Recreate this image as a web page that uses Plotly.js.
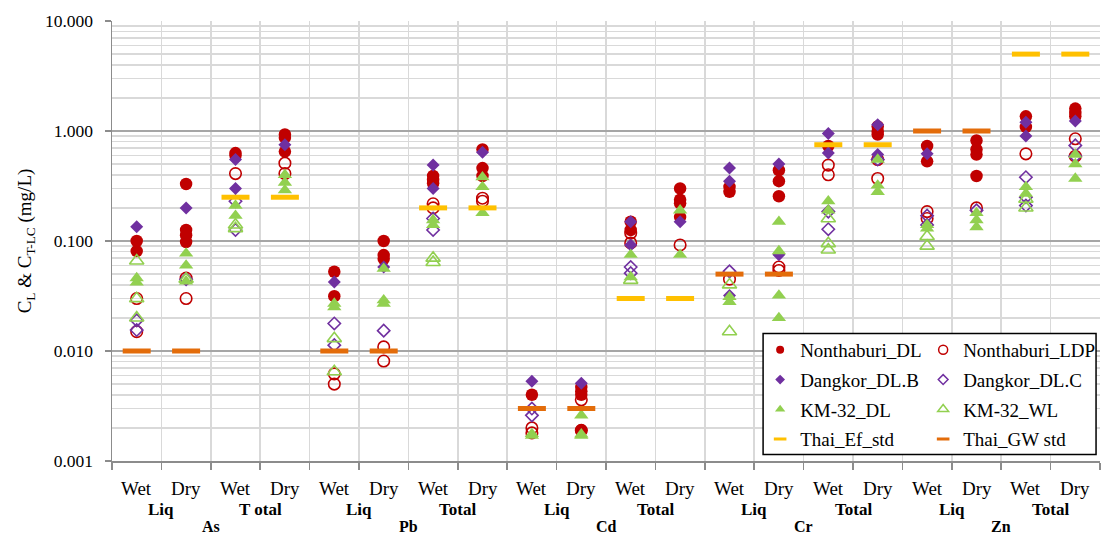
<!DOCTYPE html>
<html>
<head>
<meta charset="utf-8">
<script src="https://cdn.plot.ly/plotly-3.0.1.min.js"></script>
<style>html,body{margin:0;padding:0;background:#fff;}#chart{width:1104px;height:537px;}</style>
</head>
<body>
<div id="chart"></div>
<script>
// ---- category labels ----
const seasonLabels = ["Wet","Dry","Wet","Dry","Wet","Dry","Wet","Dry","Wet","Dry","Wet","Dry","Wet","Dry","Wet","Dry","Wet","Dry","Wet","Dry"];
const phaseLabels = ["Liq","T otal","Liq","Total","Liq","Total","Liq","Total","Liq","Total"];
const metalLabels = ["As","Pb","Cd","Cr","Zn"];
const yTickVals = [0.001, 0.01, 0.1, 1, 10];
const yTickText = ["0.001","0.010","0.100","1.000","10.000"];

// ---- series values (one list of samples per category, 20 categories) ----
const nonthaburiDL = [[0.10,0.081],[0.33,0.126,0.113,0.098],[0.63,0.60],[0.93,0.87,0.65],[0.0525,0.0315],
  [0.10,0.0745,0.069],[0.39,0.36,0.335],[0.68,0.46,0.39],[0.0040],[0.0047,0.0043,0.0040,0.0019],
  [0.15,0.126],[0.30,0.237,0.22,0.165],[0.31,0.28],[0.44,0.35,0.255],[0.73],
  [1.10,0.99,0.93],[0.73,0.53],[0.82,0.68,0.61,0.39],[1.36,1.09],[1.60,1.46,1.36]];
const nonthaburiLDP = [[0.030,0.015],[0.046,0.030],[0.41],[0.51,0.41],[0.0062,0.0050],
  [0.0109,0.0081],[0.218,0.20],[0.245,0.23],[0.0020,0.0018],[0.0036,0.0019],
  [0.118,0.096],[0.092],[0.045],[0.058,0.054],[0.49,0.40],
  [0.55,0.37],[0.185,0.16],[0.20],[0.62],[0.85,0.59]];
const dangkorB = [[0.135],[0.20],[0.55,0.30],[0.75],[0.0425],
  [0.058],[0.49,0.30],[0.64],[0.0053],[0.0051],
  [0.15,0.092],[0.15],[0.46,0.35,0.032],[0.50,0.075],[0.95,0.63],
  [1.14,0.61],[0.62],[],[1.20,0.90],[1.23]];
const dangkorC = [[0.019,0.0155],[0.045],[0.23,0.126],[],[0.0178,0.0113],
  [0.0153],[0.16,0.126],[],[0.0030,0.0026],[],
  [0.058,0.051],[],[0.053],[],[0.185,0.128],
  [0.55],[0.17,0.14],[0.19],[0.38,0.25,0.21],[0.74,0.59]];
const km32DL = [[0.046,0.042],[0.077,0.060,0.043],[0.21,0.17],[0.40,0.34,0.29],[0.027,0.025],
  [0.056,0.029,0.027],[0.155,0.14],[0.38,0.31,0.18],[0.00176,0.0017],[0.0026,0.00175,0.0017],
  [0.075,0.047],[0.19,0.075],[0.031,0.028],[0.15,0.081,0.032,0.020],[0.23,0.19],
  [0.55,0.32,0.28],[0.14,0.13],[0.18,0.155,0.134],[0.31,0.27],[0.61,0.50,0.37]];
const km32WL = [[0.066,0.030,0.020],[0.045],[0.14,0.13],[],[0.013,0.0065],
  [],[0.070,0.064],[],[],[],
  [0.044],[],[0.040,0.015],[],[0.16,0.095,0.083],
  [],[0.11,0.09],[],[0.24,0.20],[]];
const thaiEfStd = [null,null,0.25,0.25,null,null,0.2,0.2,null,null,0.03,0.03,null,null,0.75,0.75,null,null,5.0,5.0];
const thaiGWStd = [0.01,0.01,null,null,0.01,0.01,null,null,0.003,0.003,null,null,0.05,0.05,null,null,1.0,1.0,null,null];

// ---- build traces ----
function flatten(groups){
  const x=[], y=[];
  groups.forEach((g,i)=>{ g.forEach(v=>{ x.push(i); y.push(v); }); });
  return {x,y};
}
function single(arr){
  const x=[], y=[];
  arr.forEach((v,i)=>{ if(v!==null){ x.push(i); y.push(v);} });
  return {x,y};
}
const RED='#C00000', PURPLE='#7030A0', GREEN='#92D050', YELLOW='#FFC000', ORANGE='#E36C0A';
const series = [
  {name:'Nonthaburi_DL', d:flatten(nonthaburiDL), m:{symbol:'circle',color:RED,size:12.5}, lm:{symbol:'circle',color:RED,size:8}, lg:'legend'},
  {name:'Nonthaburi_LDP', d:flatten(nonthaburiLDP), m:{symbol:'circle-open',color:RED,size:11.5,line:{width:1.6,color:RED}}, lm:{symbol:'circle-open',color:RED,size:9,line:{width:1.5,color:RED}}, lg:'legend2'},
  {name:'Dangkor_DL.B', d:flatten(dangkorB), m:{symbol:'diamond',color:PURPLE,size:10}, lm:{symbol:'diamond',color:PURPLE,size:7.5}, lg:'legend'},
  {name:'Dangkor_DL.C', d:flatten(dangkorC), m:{symbol:'diamond-open',color:PURPLE,size:9.5,line:{width:1.6,color:PURPLE}}, lm:{symbol:'diamond-open',color:PURPLE,size:7.5,line:{width:1.5,color:PURPLE}}, lg:'legend2'},
  {name:'KM-32_DL', d:flatten(km32DL), m:{symbol:'triangle-up',color:GREEN,size:12.5}, lm:{symbol:'triangle-up',color:GREEN,size:9}, lg:'legend'},
  {name:'KM-32_WL', d:flatten(km32WL), m:{symbol:'triangle-up-open',color:GREEN,size:12.5,line:{width:1.6,color:GREEN}}, lm:{symbol:'triangle-up-open',color:GREEN,size:9.5,line:{width:1.5,color:GREEN}}, lg:'legend2'},
  {name:'Thai_Ef_std', d:single(thaiEfStd), m:{symbol:'line-ew',color:YELLOW,size:20,line:{width:5,color:YELLOW}}, lm:{symbol:'line-ew',color:YELLOW,size:9,line:{width:3,color:YELLOW}}, lg:'legend'},
  {name:'Thai_GW std', d:single(thaiGWStd), m:{symbol:'line-ew',color:ORANGE,size:20,line:{width:5,color:ORANGE}}, lm:{symbol:'line-ew',color:ORANGE,size:9,line:{width:3,color:ORANGE}}, lg:'legend2'}
];
const traces = [];
series.forEach(s=>{
  traces.push({type:'scatter', mode:'markers', x:s.d.x, y:s.d.y, name:s.name, marker:s.m, showlegend:false, hoverinfo:'x+y'});
});
series.forEach(s=>{
  traces.push({type:'scatter', mode:'markers', x:[null], y:[null], name:s.name, marker:s.lm, showlegend:true, legend:s.lg, legendgroup:s.name});
});

// ---- axes decorations ----
const boundaries = [];
for(let i=0;i<=20;i++) boundaries.push(i-0.5);
const minorVals = [];
[0.001,0.01,0.1,1].forEach(d=>{ for(let k=2;k<=9;k++) minorVals.push(+(d*k).toPrecision(3)); });

const FONT = '"Liberation Serif", "Times New Roman", serif';
const annotations = [];
seasonLabels.forEach((t,i)=>annotations.push({xref:'x',yref:'paper',x:i,y:-0.062,text:t,showarrow:false,font:{family:FONT,size:19,color:'#000'},yanchor:'middle'}));
phaseLabels.forEach((t,i)=>annotations.push({xref:'x',yref:'paper',x:2*i+0.5,y:-0.111,text:'<b>'+t+'</b>',showarrow:false,font:{family:FONT,size:17,color:'#000'},yanchor:'middle'}));
metalLabels.forEach((t,i)=>annotations.push({xref:'x',yref:'paper',x:4*i+1.5,y:-0.149,text:'<b>'+t+'</b>',showarrow:false,font:{family:FONT,size:16,color:'#000'},yanchor:'middle'}));

const legendCommon = {xanchor:'left', yanchor:'top', bgcolor:'rgba(0,0,0,0)', borderwidth:0,
  font:{family:FONT,size:19,color:'#000'}, tracegroupgap:2, itemwidth:30};
const layout = {
  width:1104, height:537,
  margin:{l:112, r:4, t:21, b:76},
  paper_bgcolor:'#fff', plot_bgcolor:'#fff',
  font:{family:FONT, size:16, color:'#000'},
  xaxis:{
    range:[-0.5,19.5], tickmode:'array', tickvals:boundaries, showticklabels:false,
    ticks:'outside', ticklen:7, tickcolor:'#8C8C8C', tickwidth:1.5,
    showgrid:true, gridcolor:'#D9D9D9', gridwidth:1.5, zeroline:false,
    showline:true, linecolor:'#8C8C8C', linewidth:1.5, fixedrange:true
  },
  yaxis:{
    type:'log', range:[-3,1], tickmode:'array', tickvals:yTickVals, ticktext:yTickText,
    ticks:'outside', ticklen:6, tickcolor:'#8C8C8C', tickwidth:1.5, ticklabelstandoff:8,
    tickfont:{family:FONT,size:17.5,color:'#000'},
    showgrid:true, gridcolor:'#A6A6A6', gridwidth:1.8,
    minor:{tickmode:'array', tickvals:minorVals, showgrid:true, gridcolor:'#D9D9D9', gridwidth:1.5, ticks:''},
    showline:true, linecolor:'#8C8C8C', linewidth:1.5, zeroline:false,
    title:{text:'C<sub>L</sub> & C<sub>T-LC</sub> (mg/L)', font:{family:FONT,size:19,color:'#000'}, standoff:8},
    fixedrange:true
  },
  shapes:[{type:'rect', xref:'paper', yref:'paper', x0:0.659, x1:0.996, y0:0.015, y1:0.29,
           line:{color:'#000', width:1.5}, fillcolor:'#fff', layer:'above'}],
  legend:Object.assign({x:0.656, y:0.2955}, legendCommon),
  legend2:Object.assign({x:0.821, y:0.2955}, legendCommon),
  annotations:annotations,
  showlegend:true
};
Plotly.newPlot('chart', traces, layout, {displayModeBar:false, staticPlot:true});
</script>
</body>
</html>
